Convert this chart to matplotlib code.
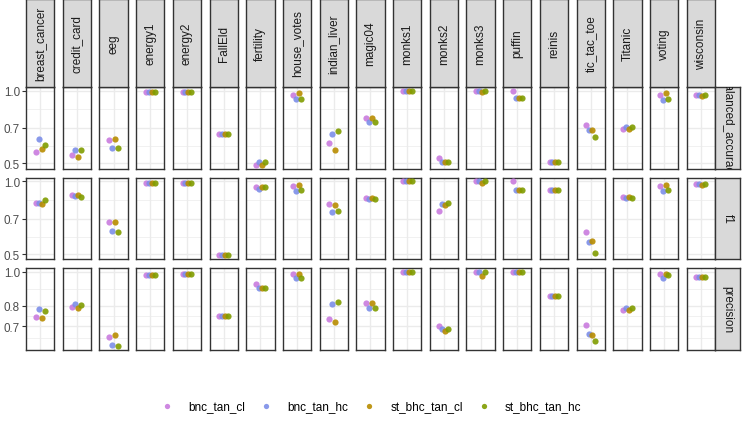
import numpy as np
import matplotlib
matplotlib.use("Agg")
import matplotlib.pyplot as plt
from matplotlib.ticker import FixedLocator, NullFormatter

plt.rcParams['font.family'] = ['Liberation Sans', 'DejaVu Sans']

# data
datasets = ['breast_cancer', 'credit_card', 'eeg', 'energy1', 'energy2', 'FallEld',
            'fertility', 'house_votes', 'indian_liver', 'magic04', 'monks1', 'monks2',
            'monks3', 'puffin', 'reinis', 'tic_tac_toe', 'Titanic', 'voting', 'wisconsin']
metrics = ['balanced_accuracy', 'f1', 'precision']
methods = ['bnc_tan_cl', 'bnc_tan_hc', 'st_bhc_tan_cl', 'st_bhc_tan_hc']
colors = ['#C97BDE', '#7C8EE8', '#B88C00', '#809C00']

balanced_accuracy = {
    'bnc_tan_cl':    [0.555, 0.540, 0.625, 0.99, 0.99, 0.658, 0.492, 0.962, 0.605, 0.767,
                      1.0, 0.524, 1.0, 1.0, 0.503, 0.719, 0.692, 0.962, 0.956],
    'bnc_tan_hc':    [0.627, 0.568, 0.579, 0.99, 0.99, 0.658, 0.505, 0.920, 0.658, 0.740,
                      1.0, 0.506, 1.0, 0.932, 0.503, 0.688, 0.706, 0.917, 0.956],
    'st_bhc_tan_cl': [0.571, 0.531, 0.627, 0.99, 0.99, 0.658, 0.492, 0.975, 0.566, 0.767,
                      1.0, 0.503, 0.984, 0.932, 0.503, 0.688, 0.692, 0.975, 0.953],
    'st_bhc_tan_hc': [0.592, 0.568, 0.577, 0.99, 0.99, 0.658, 0.505, 0.923, 0.677, 0.743,
                      1.0, 0.503, 1.0, 0.932, 0.503, 0.645, 0.706, 0.926, 0.956],
}
f1 = {
    'bnc_tan_cl':    [0.811, 0.875, 0.677, 0.98, 0.98, 0.495, 0.945, 0.958, 0.802, 0.856,
                      1.0, 0.751, 1.0, 1.0, 0.923, 0.618, 0.864, 0.954, 0.970],
    'bnc_tan_hc':    [0.817, 0.866, 0.624, 0.98, 0.98, 0.495, 0.928, 0.914, 0.744, 0.848,
                      1.0, 0.802, 1.0, 0.923, 0.923, 0.563, 0.856, 0.911, 0.970],
    'st_bhc_tan_cl': [0.802, 0.875, 0.677, 0.98, 0.98, 0.495, 0.945, 0.967, 0.796, 0.856,
                      1.0, 0.796, 0.98, 0.923, 0.923, 0.565, 0.864, 0.967, 0.967],
    'st_bhc_tan_hc': [0.835, 0.861, 0.618, 0.98, 0.98, 0.495, 0.945, 0.917, 0.753, 0.848,
                      1.0, 0.811, 1.0, 0.923, 0.923, 0.508, 0.853, 0.917, 0.970],
}
precision = {
    'bnc_tan_cl':    [0.746, 0.796, 0.654, 0.979, 0.987, 0.748, 0.923, 0.985, 0.732, 0.814,
                      1.0, 0.700, 1.0, 1.0, 0.854, 0.707, 0.781, 0.985, 0.968],
    'bnc_tan_hc':    [0.783, 0.807, 0.620, 0.979, 0.987, 0.748, 0.901, 0.960, 0.809, 0.791,
                      1.0, 0.687, 1.0, 1.0, 0.854, 0.667, 0.791, 0.958, 0.968],
    'st_bhc_tan_cl': [0.739, 0.791, 0.661, 0.979, 0.987, 0.748, 0.900, 0.985, 0.718, 0.814,
                      1.0, 0.679, 0.970, 1.0, 0.854, 0.661, 0.778, 0.985, 0.968],
    'st_bhc_tan_hc': [0.774, 0.805, 0.616, 0.979, 0.987, 0.748, 0.901, 0.960, 0.819, 0.791,
                      1.0, 0.687, 1.0, 1.0, 0.854, 0.637, 0.791, 0.981, 0.968],
}
row_data = [balanced_accuracy, f1, precision]
row_breaks = [[0.5, 0.7, 1.0], [0.5, 0.7, 1.0], [0.7, 0.8, 1.0]]
row_minor_base = [[0.5, 0.7, 1.0], [0.5, 0.7, 1.0], [0.6, 0.7, 0.8, 1.0]]

W, H = 747, 427
fig = plt.figure(figsize=(W / 100, H / 100), dpi=100)

def box(x0, y0, w, h):
    # pixel box (top-left origin) -> figure fraction
    return [x0 / W, 1 - (y0 + h) / H, w / W, h / H]

BORDER = '#333333'
GRID = '#EBEBEB'
STRIP = '#D9D9D9'

col_left, col_pitch, col_w = 26.0, 36.7, 28.3
row_top, row_pitch, row_h = 88.0, 90.5, 81.5
strip_h = 88.0
rstrip_w = 25.0

dodge = 0.125
handles = []
for r, metric in enumerate(metrics):
    vals = row_data[r]
    allv = np.log10(np.concatenate([vals[m] for m in methods]))
    lo, hi = allv.min(), allv.max()
    pad = 0.05 * (hi - lo)
    ylim = (10 ** (lo - pad), 10 ** (hi + pad))
    mb = np.log10(row_minor_base[r])
    minors = 10 ** ((mb[:-1] + mb[1:]) / 2)
    for c, ds in enumerate(datasets):
        x0 = col_left + c * col_pitch
        y0 = row_top + r * row_pitch
        ax = fig.add_axes(box(x0, y0, col_w, row_h))
        ax.set_yscale('log')
        ax.set_xlim(0.4, 1.6)
        ax.set_ylim(*ylim)
        ax.yaxis.set_major_locator(FixedLocator(row_breaks[r]))
        ax.yaxis.set_minor_locator(FixedLocator(minors))
        ax.yaxis.set_minor_formatter(NullFormatter())
        ax.set_xticks([1.0])
        ax.grid(True, which='major', color=GRID, lw=1.0)
        ax.grid(True, which='minor', axis='y', color=GRID, lw=0.5)
        ax.set_axisbelow(True)
        ax.tick_params(axis='x', length=0, labelbottom=False)
        ax.tick_params(axis='y', which='minor', length=0)
        if c == 0:
            ax.set_yticklabels([f'{b:.1f}' for b in row_breaks[r]])
            ax.tick_params(axis='y', which='major', length=2.75, width=0.8,
                           color=BORDER, labelsize=8.4, labelcolor='#4D4D4D', pad=1.5)
        else:
            ax.tick_params(axis='y', which='major', length=0, labelleft=False)
        for s in ax.spines.values():
            s.set_color(BORDER)
            s.set_linewidth(1.0)
        for k, m in enumerate(methods):
            h = ax.scatter([1.0 + (k - 1.5) * dodge], [vals[m][c]], s=20, color=colors[k],
                           alpha=0.9, linewidths=0, label=m, clip_on=False, zorder=3)
            if r == 0 and c == 0:
                handles.append(h)

        # top strips
        if r == 0:
            sax = fig.add_axes(box(x0, 0, col_w, strip_h))
            sax.set_facecolor(STRIP)
            sax.set_xticks([])
            sax.set_yticks([])
            for s in sax.spines.values():
                s.set_color(BORDER)
                s.set_linewidth(1.0)
            sax.text(0.5, 0.5, ds, rotation=90, ha='center', va='center',
                     fontsize=8.5, color='#1A1A1A', transform=sax.transAxes)

    # right strips
    rax = fig.add_axes(box(col_left + (len(datasets) - 1) * col_pitch + col_w,
                           row_top + r * row_pitch, rstrip_w, row_h))
    rax.set_facecolor(STRIP)
    rax.set_xticks([])
    rax.set_yticks([])
    for s in rax.spines.values():
        s.set_color(BORDER)
        s.set_linewidth(1.0)
    rax.text(0.5, 0.5, metric, rotation=-90, ha='center', va='center', fontsize=8.5,
             color='#1A1A1A', transform=rax.transAxes, clip_on=True)

fig.legend(handles=handles, labels=methods, loc='center', bbox_to_anchor=(0.495, 1 - 406.7 / H),
           ncol=4, frameon=False, fontsize=8.45, handlelength=1.5, handletextpad=1.05,
           columnspacing=1.05, markerscale=0.85, scatterpoints=1)

fig.savefig('out.png', dpi=100)
